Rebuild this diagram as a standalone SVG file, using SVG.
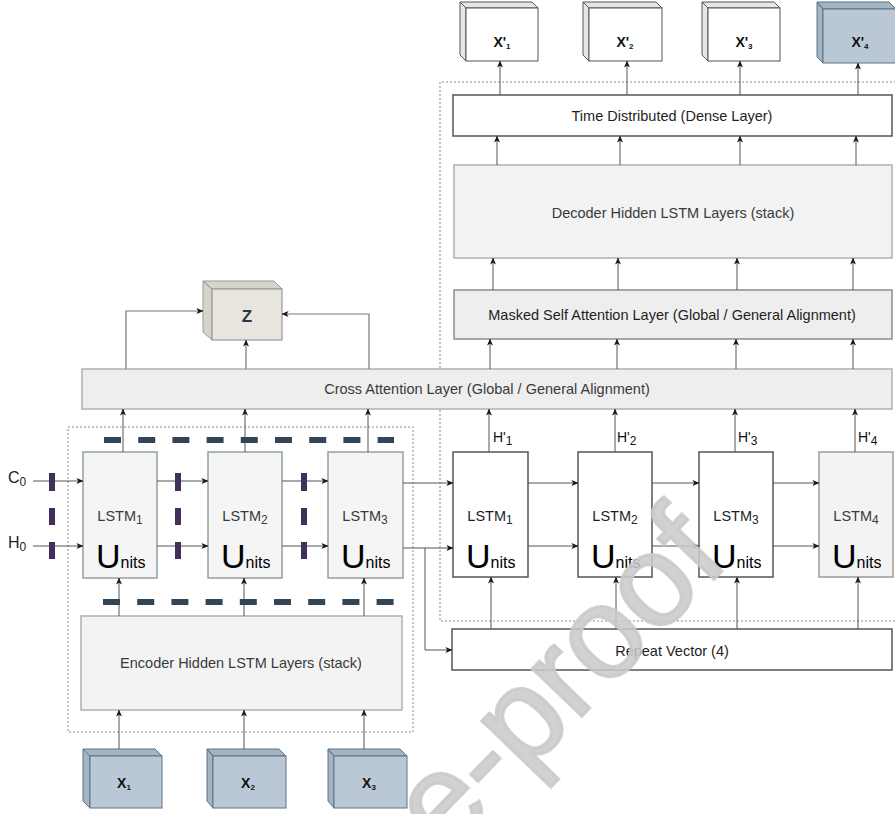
<svg xmlns="http://www.w3.org/2000/svg" width="895" height="814" viewBox="0 0 895 814">
  <defs>
    <marker id="ah" viewBox="0 0 8 8" refX="7.5" refY="4" markerWidth="7" markerHeight="7" markerUnits="userSpaceOnUse" orient="auto">
      <path d="M0,0.6 L8,4 L0,7.4 L2,4 z" fill="#1a1a1a"/>
    </marker>
  </defs>
  <style>
    text { font-family: "Liberation Sans", Arial, sans-serif; }
    .lbl { font-size: 14.5px; fill: #1e1e1e; text-anchor: middle; }
    .dim { fill: #3a3a3a; }
    .c { fill: none; stroke: #555; stroke-width: 1; marker-end: url(#ah); }
    .cg { fill: none; stroke: #777; stroke-width: 1.2; marker-end: url(#ah); }
    .frame { fill: none; stroke: #8a8a8a; stroke-width: 1; stroke-dasharray: 2 2; }
    .enc { fill: #f5f5f5; stroke: #8fa1a1; stroke-width: 1.5; }
    .dec { fill: #ffffff; stroke: #555; stroke-width: 1.5; }
    .wide { fill: #ffffff; stroke: #555; stroke-width: 1.5; }
    .layer { fill: #f3f3f3; stroke: #b0b0b0; stroke-width: 1.5; }
    .cube-w { fill: #ffffff; stroke: #555; stroke-width: 1; }
    .cube-ws { fill: #e6e6e6; stroke: #555; stroke-width: 1; }
    .cube-b { fill: #b9c8d4; stroke: #5e7385; stroke-width: 1; }
    .cube-bs { fill: #a3b4c2; stroke: #5e7385; stroke-width: 1; }
    .big { font-size: 34px; fill: #000; }
    .sm { font-size: 16px; fill: #000; }
    .slate { stroke: #344656; stroke-width: 6; stroke-dasharray: 17 17.2; fill: none; }
    .plum { stroke: #41305c; stroke-width: 6; fill: none; }
    .cubetxt { font-size: 14px; font-weight: bold; fill: #111; text-anchor: middle; }
  </style>

  <!-- dotted group frames -->
  <g id="encoder-frame">
    <rect class="frame" x="68" y="427" width="345" height="305"/>
  </g>
  <g id="decoder-frame">
    <path class="frame" d="M900,82 H440 V621 H900"/>
  </g>

  <!-- outputs X'1..X'4 -->
  <g id="out1">
    <path class="cube-ws" d="M460,2 H532 L538,8 H466 Z M460,2 L466,8 V61 L460,55 Z"/>
    <rect class="cube-w" x="466" y="8" width="72" height="53"/>
    <text class="cubetxt" x="502" y="47">X'<tspan font-size="8" dy="2">1</tspan></text>
  </g>
  <g id="out2">
    <path class="cube-ws" d="M583,2 H656 L662,8 H589 Z M583,2 L589,8 V61 L583,55 Z"/>
    <rect class="cube-w" x="589" y="8" width="73" height="53"/>
    <text class="cubetxt" x="625" y="47">X'<tspan font-size="8" dy="2">2</tspan></text>
  </g>
  <g id="out3">
    <path class="cube-ws" d="M702,2 H774 L780,8 H708 Z M702,2 L708,8 V61 L702,55 Z"/>
    <rect class="cube-w" x="708" y="8" width="72" height="53"/>
    <text class="cubetxt" x="744" y="47">X'<tspan font-size="8" dy="2">3</tspan></text>
  </g>
  <g id="out4">
    <path class="cube-bs" d="M817,2 H889 L896,9 H823 Z M817,2 L823,9 V63 L817,57 Z"/>
    <rect class="cube-b" x="823" y="9" width="74" height="54"/>
    <text class="cubetxt" x="860" y="47">X'<tspan font-size="8" dy="2">4</tspan></text>
  </g>

  <!-- decoder stack -->
  <g id="time-distributed">
    <rect class="wide" x="453" y="95" width="439" height="41"/>
    <text class="lbl" x="672" y="121">Time Distributed (Dense Layer)</text>
  </g>
  <g id="decoder-hidden">
    <rect class="layer" x="454" y="165" width="438" height="93"/>
    <text class="lbl dim" x="673" y="218">Decoder Hidden LSTM Layers (stack)</text>
  </g>
  <g id="masked-attention">
    <rect fill="#eeeeee" stroke="#8c8c8c" stroke-width="1.5" x="454" y="290" width="438" height="49"/>
    <text class="lbl" x="672" y="320">Masked Self Attention Layer (Global / General Alignment)</text>
  </g>

  <!-- latent Z -->
  <g id="z">
    <path fill="#d6d4cc" stroke="#999" stroke-width="1" d="M203,281 H274 L282,289 H212 Z M203,281 L212,289 V340 L203,332 Z"/>
    <rect fill="#e7e5de" stroke="#999" stroke-width="1.2" x="212" y="289" width="70" height="51"/>
    <text x="247" y="322" font-size="17" font-weight="bold" fill="#2b3440" text-anchor="middle">Z</text>
  </g>

  <g id="cross-attention">
    <rect fill="#eeeeee" stroke="#b0b0b0" stroke-width="1.5" x="82" y="369" width="810" height="40"/>
    <text class="lbl dim" x="487" y="394">Cross Attention Layer (Global / General Alignment)</text>
  </g>

  <!-- encoder LSTM cells -->
  <g id="enc-lstm1">
    <rect class="enc" x="83" y="452" width="74" height="126"/>
    <text class="lbl dim" x="120" y="521">LSTM<tspan font-size="12" dy="3">1</tspan></text>
    <text x="96" y="568"><tspan class="big">U</tspan><tspan class="sm">nits</tspan></text>
  </g>
  <g id="enc-lstm2">
    <rect class="enc" x="208" y="452" width="74" height="126"/>
    <text class="lbl dim" x="245" y="521">LSTM<tspan font-size="12" dy="3">2</tspan></text>
    <text x="221" y="568"><tspan class="big">U</tspan><tspan class="sm">nits</tspan></text>
  </g>
  <g id="enc-lstm3">
    <rect class="enc" x="328" y="452" width="75" height="126"/>
    <text class="lbl dim" x="365" y="521">LSTM<tspan font-size="12" dy="3">3</tspan></text>
    <text x="341" y="568"><tspan class="big">U</tspan><tspan class="sm">nits</tspan></text>
  </g>

  <!-- decoder LSTM cells -->
  <g id="dec-lstm1">
    <rect class="dec" x="453" y="452" width="75" height="125"/>
    <text class="lbl" x="490" y="521">LSTM<tspan font-size="12" dy="3">1</tspan></text>
    <text x="466" y="568"><tspan class="big">U</tspan><tspan class="sm">nits</tspan></text>
  </g>
  <g id="dec-lstm2">
    <rect class="dec" x="578" y="452" width="74" height="125"/>
    <text class="lbl" x="615" y="521">LSTM<tspan font-size="12" dy="3">2</tspan></text>
    <text x="591" y="568"><tspan class="big">U</tspan><tspan class="sm">nits</tspan></text>
  </g>
  <g id="dec-lstm3">
    <rect class="dec" x="699" y="452" width="74" height="125"/>
    <text class="lbl" x="736" y="521">LSTM<tspan font-size="12" dy="3">3</tspan></text>
    <text x="712" y="568"><tspan class="big">U</tspan><tspan class="sm">nits</tspan></text>
  </g>
  <g id="dec-lstm4">
    <rect fill="#f3f3f3" stroke="#9a9a9a" stroke-width="1.5" x="819" y="452" width="74" height="125"/>
    <text class="lbl dim" x="856" y="521">LSTM<tspan font-size="12" dy="3">4</tspan></text>
    <text x="832" y="568"><tspan class="big">U</tspan><tspan class="sm">nits</tspan></text>
  </g>

  <g id="repeat-vector">
    <rect class="wide" x="452" y="629" width="440" height="41"/>
    <text class="lbl" x="672" y="656">Repeat Vector (4)</text>
  </g>

  <g id="encoder-hidden">
    <rect class="layer" x="81" y="616" width="321" height="94"/>
    <text class="lbl dim" x="241" y="668">Encoder Hidden LSTM Layers (stack)</text>
  </g>

  <!-- inputs X1..X3 -->
  <g id="in1">
    <path class="cube-bs" d="M83,749 H155 L162,756 H90 Z M83,749 L90,756 V808 L83,801 Z"/>
    <rect class="cube-b" x="90" y="756" width="72" height="52"/>
    <text class="cubetxt" x="124" y="788" font-weight="normal">X<tspan font-size="8" dy="2">1</tspan></text>
  </g>
  <g id="in2">
    <path class="cube-bs" d="M207,749 H279 L286,756 H213 Z M207,749 L213,756 V808 L207,801 Z"/>
    <rect class="cube-b" x="213" y="756" width="73" height="52"/>
    <text class="cubetxt" x="248" y="788" font-weight="normal">X<tspan font-size="8" dy="2">2</tspan></text>
  </g>
  <g id="in3">
    <path class="cube-bs" d="M328,749 H400 L407,756 H334 Z M328,749 L334,756 V808 L328,801 Z"/>
    <rect class="cube-b" x="334" y="756" width="73" height="52"/>
    <text class="cubetxt" x="369" y="788" font-weight="normal">X<tspan font-size="8" dy="2">3</tspan></text>
  </g>

  <!-- initial states -->
  <g id="c0">
    <text x="8" y="483" font-size="16" fill="#222">C<tspan font-size="12" dy="3">0</tspan></text>
  </g>
  <g id="h0">
    <text x="8" y="548" font-size="16" fill="#222">H<tspan font-size="12" dy="3">0</tspan></text>
  </g>

  <!-- hidden-state labels -->
  <g id="hidden-labels" font-size="14" fill="#111">
    <text x="493" y="442">H'<tspan font-size="12" dy="3">1</tspan></text>
    <text x="617" y="442">H'<tspan font-size="12" dy="3">2</tspan></text>
    <text x="738" y="442">H'<tspan font-size="12" dy="3">3</tspan></text>
    <text x="858" y="442">H'<tspan font-size="12" dy="3">4</tspan></text>
  </g>

  <!-- connectors -->
  <g id="connectors">
    <!-- inputs into encoder stack -->
    <path class="c" d="M119,749 V710"/>
    <path class="c" d="M244,749 V710"/>
    <path class="c" d="M364,749 V710"/>
    <!-- encoder stack into cells -->
    <path class="c" d="M119,616 V578"/>
    <path class="c" d="M244,616 V578"/>
    <path class="c" d="M364,616 V578"/>
    <!-- encoder cells into cross attention -->
    <path class="c" d="M123,452 V409"/>
    <path class="c" d="M245,452 V409"/>
    <path class="c" d="M368,452 V409"/>
    <!-- cross attention into Z -->
    <path class="cg" d="M126,369 V311 H203"/>
    <path class="cg" d="M246,369 V340"/>
    <path class="cg" d="M369,369 V314 H282"/>
    <!-- recurrent links, encoder -->
    <path class="c" d="M33,481 H83"/>
    <path class="c" d="M33,546 H83"/>
    <path class="c" d="M157,481 H208"/>
    <path class="c" d="M157,546 H208"/>
    <path class="c" d="M282,481 H328"/>
    <path class="c" d="M282,546 H328"/>
    <!-- encoder to decoder -->
    <path class="c" d="M403,483 H453"/>
    <path class="c" d="M403,548 H453"/>
    <path class="c" d="M425,548 V650 H452"/>
    <!-- recurrent links, decoder -->
    <path class="c" d="M528,483 H578"/>
    <path class="c" d="M528,546 H578"/>
    <path class="c" d="M652,483 H699"/>
    <path class="c" d="M652,546 H699"/>
    <path class="c" d="M773,483 H819"/>
    <path class="c" d="M773,546 H819"/>
    <!-- repeat vector into decoder cells -->
    <path class="c" d="M491,629 V577"/>
    <path class="c" d="M616,629 V577"/>
    <path class="c" d="M737,629 V577"/>
    <path class="c" d="M858,629 V577"/>
    <!-- decoder cells into cross attention -->
    <path class="c" d="M489,452 V409"/>
    <path class="c" d="M615,452 V409"/>
    <path class="c" d="M735,452 V409"/>
    <path class="c" d="M855,452 V409"/>
    <!-- cross attention into masked attention -->
    <path class="c" d="M490,369 V339"/>
    <path class="c" d="M617,369 V339"/>
    <path class="c" d="M736,369 V339"/>
    <path class="c" d="M853,369 V339"/>
    <!-- masked attention into decoder stack -->
    <path class="c" d="M493,290 V258"/>
    <path class="c" d="M618,290 V258"/>
    <path class="c" d="M737,290 V258"/>
    <path class="c" d="M853,290 V258"/>
    <!-- decoder stack into time distributed -->
    <path class="c" d="M497,165 V136"/>
    <path class="c" d="M620,165 V136"/>
    <path class="c" d="M740,165 V136"/>
    <path class="c" d="M856,165 V136"/>
    <!-- time distributed into outputs -->
    <path class="c" d="M500,95 V61"/>
    <path class="c" d="M627,95 V61"/>
    <path class="c" d="M740,95 V61"/>
    <path class="c" d="M858,95 V63"/>
  </g>

  <!-- state-boundary dashes -->
  <g id="dashes">
    <path class="slate" d="M104,440 H394"/>
    <path class="slate" d="M103,602 H394"/>
    <path class="plum" d="M52,473 V491 M52,508 V525 M52,542 V559"/>
    <path class="plum" d="M178,473 V491 M178,508 V525 M178,542 V559"/>
    <path class="plum" d="M304,473 V491 M304,508 V525 M304,542 V559"/>
  </g>

  <!-- watermark -->
  <g id="watermark">
    <text x="0" y="0" transform="translate(445,858) rotate(-46)" font-size="130" fill="#c9c9c9" fill-opacity="0.85" stroke="#c9c9c9" stroke-opacity="0.85" stroke-width="3">e-proof</text>
  </g>
</svg>
